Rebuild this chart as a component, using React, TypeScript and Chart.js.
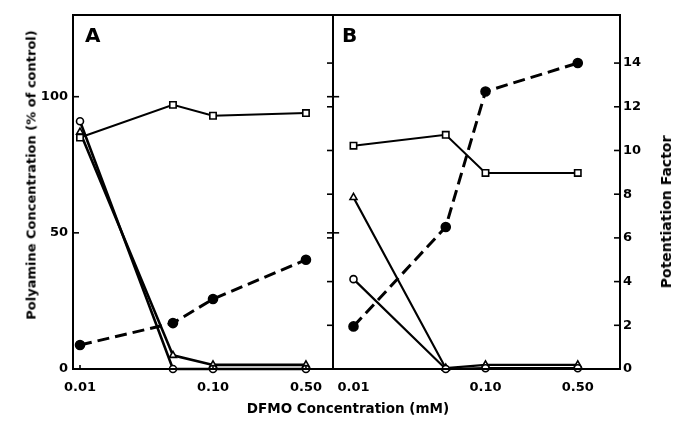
import React, { useEffect, useRef } from 'react';
import { Chart, registerables } from 'chart.js';

Chart.register(...registerables);

// ---------- data ----------
const concentrations = [0.01, 0.05, 0.1, 0.5];
const xTickValues = [0.01, 0.1, 0.5];
const xTickLabels = ['0.01', '0.10', '0.50'];
const leftTickValues = [0, 50, 100];
const rightTickValues = [0, 2, 4, 6, 8, 10, 12, 14];

// Panel A (polyamine % of control, left axis; potentiation factor, right axis)
const squaresA = [85, 97, 93, 94];
const circlesA = [91, 0, 0, 0];
const trianglesA = [87, 5, 1.5, 1.5];
const potentiationA = [1.1, 2.1, 3.2, 5.0];

// Panel B
const squaresB = [82, 86, 72, 72];
const circlesB = [33, 0, 0.3, 0.3];
const trianglesB = [63, 0.3, 1.5, 1.5];
const potentiationB = [1.95, 6.5, 12.7, 14.0];

const FONT = 'DejaVu Sans';
const W = 673;
const H = 421;

const framePlugin = {
  id: 'frameTicks',
  afterDatasetsDraw(chart: any, _args: any, opts: any) {
    const { ctx, chartArea: a } = chart;
    ctx.save();
    ctx.strokeStyle = '#000';
    ctx.lineWidth = 2;
    ctx.beginPath();
    if (opts.skipLeft) {
      ctx.moveTo(a.left - 2, a.top);
      ctx.lineTo(a.right, a.top);
      ctx.lineTo(a.right, a.bottom);
      ctx.lineTo(a.left - 2, a.bottom);
    } else {
      ctx.rect(a.left, a.top, a.right - a.left, a.bottom - a.top);
    }
    ctx.stroke();
    ctx.lineWidth = 1.6;
    for (const m of opts.marks || []) {
      const scale = chart.scales[m.scale];
      for (const v of m.values) {
        ctx.beginPath();
        if (m.scale === 'x') {
          const x = scale.getPixelForValue(v);
          ctx.moveTo(x, a.bottom + m.from);
          ctx.lineTo(x, a.bottom + m.to);
        } else {
          const y = scale.getPixelForValue(v);
          const x0 = m.side === 'left' ? a.left : a.right;
          ctx.moveTo(x0 + m.from, y);
          ctx.lineTo(x0 + m.to, y);
        }
        ctx.stroke();
      }
    }
    ctx.restore();
  },
};

function series(
  data: number[],
  axis: string,
  style: string,
  filled: boolean,
  radius: number,
  lineWidth: number,
  dash: number[] = []
) {
  return {
    data: concentrations.map((x, i) => ({ x, y: data[i] })),
    yAxisID: axis,
    borderColor: '#000',
    borderWidth: lineWidth,
    borderDash: dash,
    pointStyle: style,
    pointRadius: radius,
    pointBackgroundColor: filled ? '#000' : '#fff',
    pointBorderColor: '#000',
    pointBorderWidth: 1.6,
    tension: 0,
    fill: false,
    clip: false as any,
  };
}

const tickFont = { family: FONT, size: 13, weight: 'bold' as const };

function makeConfig(panel: 'A' | 'B') {
  const isA = panel === 'A';
  const datasets = isA
    ? [
        series(squaresA, 'y', 'rect', false, 4.5, 2),
        series(circlesA, 'y', 'circle', false, 3.5, 2.6),
        series(trianglesA, 'y', 'triangle', false, 4, 2.6),
        series(potentiationA, 'y2', 'circle', true, 4.5, 3, [12, 6]),
      ]
    : [
        series(squaresB, 'y', 'rect', false, 4.5, 2),
        series(circlesB, 'y', 'circle', false, 3.5, 2.2),
        series(trianglesB, 'y', 'triangle', false, 4, 2.2),
        series(potentiationB, 'y2', 'circle', true, 4.5, 3, [12, 6]),
      ];
  const inner = (vals: number[]) => vals.filter((v) => v > 0);
  const marks = isA
    ? [
        { scale: 'y', side: 'left', values: inner(leftTickValues), from: 0, to: 6 },
        { scale: 'y', side: 'right', values: inner(leftTickValues), from: -6, to: 0 },
        { scale: 'y2', side: 'right', values: inner(rightTickValues), from: -6, to: 0 },
        { scale: 'x', values: xTickValues, from: 0, to: -4 },
      ]
    : [
        { scale: 'y', side: 'left', values: inner(leftTickValues), from: -2, to: 4 },
        { scale: 'y2', side: 'right', values: inner(rightTickValues), from: -6, to: 0 },
      ];
  return {
    type: 'line' as const,
    data: { datasets },
    plugins: [framePlugin],
    options: {
      responsive: false,
      animation: false as const,
      layout: {
        padding: isA
          ? { left: 0, right: 7, top: 15, bottom: 0 }
          : { left: 7, right: 0, top: 15, bottom: 0 },
      },
      plugins: {
        legend: { display: false },
        tooltip: { enabled: false },
        frameTicks: { marks, skipLeft: !isA },
      },
      scales: {
        x: {
          type: 'logarithmic' as const,
          min: isA ? 0.008858 : 0.00726,
          max: isA ? 0.7985 : 1.0442,
          afterBuildTicks: (s: any) => {
            s.ticks = xTickValues.map((v) => ({ value: v }));
          },
          afterFit: (s: any) => {
            s.height = 52;
          },
          ticks: {
            callback: (v: any) => {
              const i = xTickValues.findIndex((t) => Math.abs(t - v) < 1e-9);
              return i >= 0 ? xTickLabels[i] : '';
            },
            autoSkip: false,
            maxRotation: 0,
            padding: 11,
            color: '#000',
            font: tickFont,
          },
          grid: { display: false, drawTicks: false },
          border: { display: false },
        },
        y: {
          type: 'linear' as const,
          position: 'left' as const,
          display: isA,
          min: 0,
          max: 130,
          afterBuildTicks: (s: any) => {
            s.ticks = leftTickValues.map((v) => ({ value: v }));
          },
          afterFit: (s: any) => {
            if (isA) s.width = 73;
          },
          ticks: { padding: 5, color: '#000', font: tickFont },
          grid: { display: false, drawTicks: false },
          border: { display: false },
        },
        y2: {
          type: 'linear' as const,
          position: 'right' as const,
          display: !isA,
          min: 0,
          max: 16.2,
          afterBuildTicks: (s: any) => {
            s.ticks = rightTickValues.map((v) => ({ value: v }));
          },
          afterFit: (s: any) => {
            if (!isA) s.width = 53;
          },
          ticks: { padding: 3, color: '#000', font: tickFont },
          grid: { display: false, drawTicks: false },
          border: { display: false },
        },
      },
    },
  };
}

function Panel({ panel, left, width }: { panel: 'A' | 'B'; left: number; width: number }) {
  const ref = useRef<HTMLCanvasElement | null>(null);
  useEffect(() => {
    if (!ref.current) return;
    const chart = new Chart(ref.current, makeConfig(panel) as any);
    return () => chart.destroy();
  }, [panel]);
  return (
    <canvas
      ref={ref}
      width={width}
      height={H}
      style={{ position: 'absolute', left, top: 0, width, height: H }}
    />
  );
}

const textBase: React.CSSProperties = {
  position: 'absolute',
  fontFamily: FONT,
  fontWeight: 'bold',
  color: '#000',
  whiteSpace: 'nowrap',
  lineHeight: 1,
};

export default function App() {
  return (
    <div
      style={{
        position: 'fixed',
        left: 0,
        top: 0,
        width: W,
        height: H,
        background: '#fff',
        overflow: 'hidden',
      }}
    >
      <Panel panel="B" left={326} width={347} />
      <Panel panel="A" left={0} width={340} />
      <div style={{ ...textBase, left: 85, top: 25, fontSize: 20, lineHeight: '20px' }}>A</div>
      <div style={{ ...textBase, left: 342, top: 25, fontSize: 20, lineHeight: '20px' }}>B</div>
      <div
        style={{
          ...textBase,
          left: 31,
          top: 175,
          fontSize: 13,
          transform: 'translate(-50%, -50%) rotate(-90deg)',
        }}
      >
        Polyamine Concentration (% of control)
      </div>
      <div
        style={{
          ...textBase,
          left: 666,
          top: 212,
          fontSize: 14,
          transform: 'translate(-50%, -50%) rotate(-90deg)',
        }}
      >
        Potentiation Factor
      </div>
      <div
        style={{
          ...textBase,
          left: 348,
          top: 409,
          fontSize: 13.5,
          transform: 'translate(-50%, -50%)',
        }}
      >
        DFMO Concentration (mM)
      </div>
    </div>
  );
}
